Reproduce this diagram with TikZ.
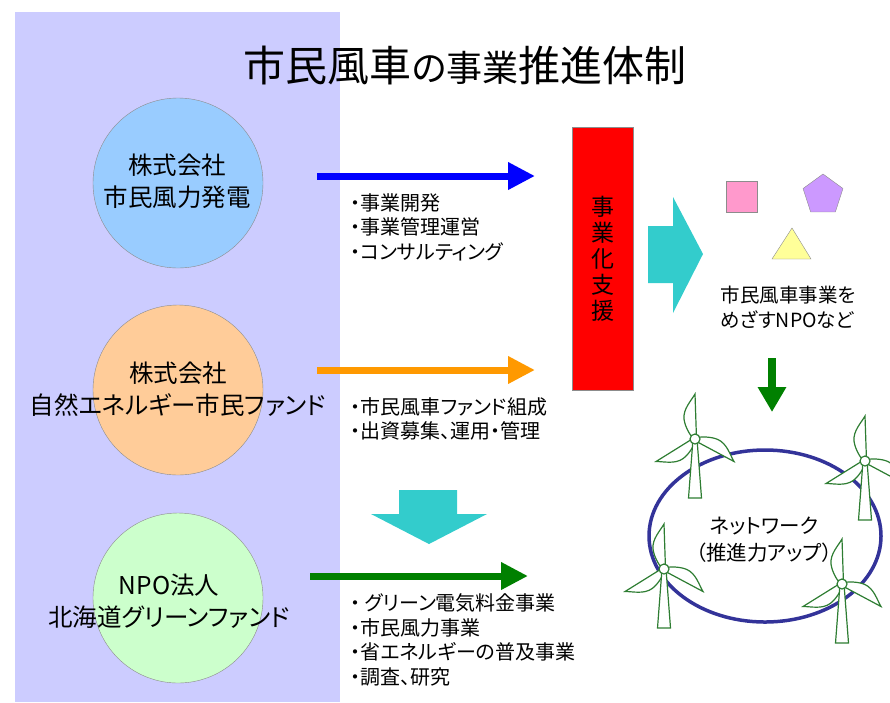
\documentclass[tikz,border=0pt]{standalone}
\usepackage{fontspec}
\setmainfont[RawFeature=+palt]{Noto Sans CJK JP}
\usetikzlibrary{arrows.meta,shapes.geometric}
\definecolor{panel}{HTML}{CCCCFF}
\definecolor{kabublue}{HTML}{99CCFF}
\definecolor{fundorange}{HTML}{FFCC99}
\definecolor{npogreen}{HTML}{CCFFCC}
\definecolor{edge}{HTML}{8C8C8C}
\definecolor{arrblue}{HTML}{0000FF}
\definecolor{arrorange}{HTML}{FF9900}
\definecolor{arrgreen}{HTML}{008000}
\definecolor{blockcyan}{HTML}{33CCCC}
\definecolor{netblue}{HTML}{333399}
\definecolor{mill}{HTML}{2E7D32}
\definecolor{sqpink}{HTML}{FF99CC}
\definecolor{pentpurple}{HTML}{CC99FF}
\definecolor{triyellow}{HTML}{FFFF99}

\begin{document}
\begin{tikzpicture}[x=1pt,y=-1pt,
  org/.style={circle,draw=edge,minimum size=170pt,inner sep=0pt},
  orgtext/.style={font=\fontsize{24.5}{32}\selectfont,align=center},
  flow/.style={line width=7pt,-{Triangle[length=27pt,width=26pt]}},
  items/.style={font=\fontsize{20}{24.5}\selectfont,align=left,anchor=west},
  turbine/.pic={
    \foreach \a in {90,210,330}
      \filldraw[mill,fill=white,line width=1.2pt,rotate=\a] (0,1.5) -- (45,0)
        .. controls (38,-4) and (30,-12) .. (20,-11)
        .. controls (12,-10) and (4,-5) .. (0,-1.5) -- cycle;
    \filldraw[mill,fill=white,line width=1.2pt] (-2,0) -- (2,0) -- (6.5,59) -- (-6.5,59) -- cycle;
    \filldraw[mill,fill=white,line width=1.2pt] (0,0) circle (5);
  }]
  \useasboundingbox (0,0) rectangle (890,702);

  % Left panel
  \fill[panel] (15,12) rectangle (340,702);

  % Title
  \node (title) at (465,65) {{\fontsize{42}{42}\selectfont 市民風車}{\fontsize{36}{36}\selectfont の事業}{\fontsize{42}{42}\selectfont 推進体制}};

  % Organisations
  \node[org,fill=kabublue] (kabu) at (178,183) {};
  \node[orgtext] (kabutext) at (177,181) {株式会社\\市民風力発電};
  \node[org,fill=fundorange] (fund) at (178,390) {};
  \node[orgtext] (fundtext) at (178,389) {株式会社\\自然エネルギー市民ファンド};
  \node[org,fill=npogreen] (npo) at (178,598) {};
  \node[orgtext] (npotext) at (169,601) {NPO法人\\北海道グリーンファンド};

  % Arrows and what they carry
  \coordinate (b1) at (317,176);
  \coordinate (b2) at (535,176);
  \draw[flow,arrblue] (b1) -- (b2);
  \node[items] (blueitems) at (347,227) {・事業開発\\・事業管理運営\\・コンサルティング};

  \coordinate (o1) at (317,370);
  \coordinate (o2) at (535,370);
  \draw[flow,arrorange] (o1) -- (o2);
  \node[items] (orangeitems) at (347,419) {・市民風車ファンド組成\\・出資募集、運用・管理};

  \fill[blockcyan] (399,490) -- (457,490) -- (457,514) -- (487,514) -- (429,544)
    -- (371,514) -- (399,514) -- cycle;

  \coordinate (g1) at (310,576);
  \coordinate (g2) at (528,576);
  \draw[flow,arrgreen] (g1) -- (g2);
  \node[items] (greenitems) at (347,640) {・\ グリーン電気料金事業\\・市民風力事業\\・省エネルギーの普及事業\\・調査、研究};

  % Support bar
  \node[draw=edge,fill=red,minimum width=61pt,minimum height=263pt,inner sep=0pt,
    font=\fontsize{23}{26}\selectfont,align=center] (shien) at (602.5,258.5) {事\\業\\化\\支\\援};

  \fill[blockcyan] (648,226) -- (673,226) -- (673,197) -- (703,254) -- (673,313)
    -- (673,283) -- (648,283) -- cycle;

  % NPOs
  \node[draw=edge,fill=sqpink,minimum size=31pt,inner sep=0pt] (sq) at (741.5,197) {};
  \node[draw=edge,fill=pentpurple,regular polygon,regular polygon sides=5,minimum size=42pt,inner sep=0pt] (pent) at (823,195) {};
  \filldraw[draw=edge,fill=triyellow] (772,259) -- (792,228) -- (811,259) -- cycle;
  \node[font=\fontsize{19.5}{25}\selectfont,align=left,anchor=west] (npos) at (717,307) {市民風車事業を\\めざすNPOなど};

  \coordinate (d1) at (772,358);
  \coordinate (d2) at (772,412);
  \draw[arrgreen,line width=8pt,-{Triangle[length=25pt,width=27pt]}] (d1) -- (d2);

  % Network
  \node[ellipse,draw=netblue,line width=3.5pt,minimum width=232pt,minimum height=172pt] (net) at (765,536) {};
  \pic at (695,439) {turbine};
  \pic at (865,461) {turbine};
  \pic at (664,569) {turbine};
  \pic at (842,584) {turbine};
  \node[font=\fontsize{20.5}{27}\selectfont,align=center] (nettext) at (764,540) {ネットワーク\\（推進力アップ）};
\end{tikzpicture}
\end{document}
